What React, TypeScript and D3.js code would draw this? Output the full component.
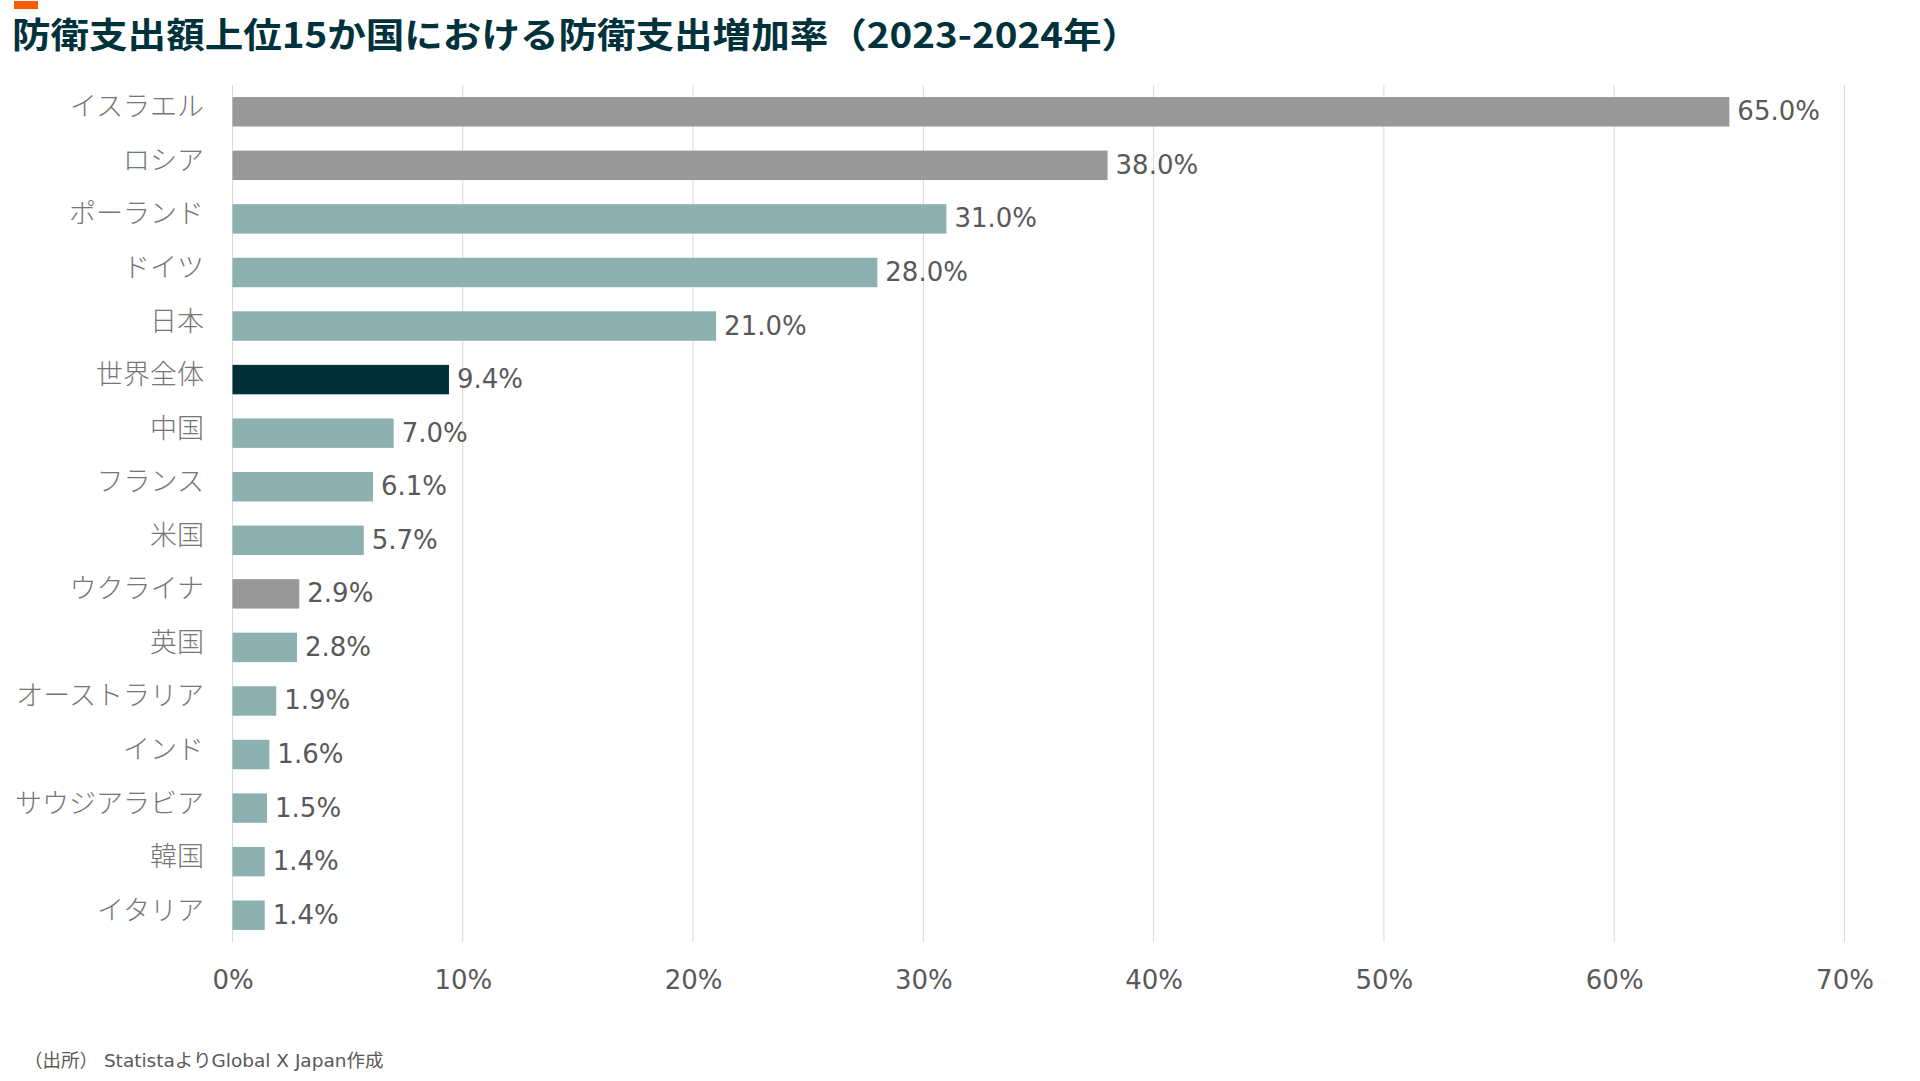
import React, { useEffect, useRef } from "react";
import * as d3 from "d3";

// 防衛支出増加率（2023-2024年）
const countries = [
  "イスラエル", "ロシア", "ポーランド", "ドイツ", "日本", "世界全体", "中国", "フランス",
  "米国", "ウクライナ", "英国", "オーストラリア", "インド", "サウジアラビア", "韓国", "イタリア",
];
const growth = [65.0, 38.0, 31.0, 28.0, 21.0, 9.4, 7.0, 6.1, 5.7, 2.9, 2.8, 1.9, 1.6, 1.5, 1.4, 1.4];
// bar colour groups
const kinds = [
  "war", "war", "country", "country", "country", "world", "country", "country",
  "country", "war", "country", "country", "country", "country", "country", "country",
];
const xTicks = [0, 10, 20, 30, 40, 50, 60, 70];

const title = "防衛支出額上位15か国における防衛支出増加率（2023-2024年）";
const source = "（出所） StatistaよりGlobal X Japan作成";

const W = 1920;
const H = 1081;
const FONT = "'DejaVu Sans', 'Noto Sans CJK JP', sans-serif";

const colorOf: Record<string, string> = {
  war: "#999999",
  country: "#8db1b0",
  world: "#022f38",
};

const App: React.FC = () => {
  const ref = useRef<SVGSVGElement>(null);

  useEffect(() => {
    if (!ref.current) return;
    const svg = d3.select(ref.current);
    svg.selectAll("*").remove();

    const left = 232.5;
    const right = 1844.5;
    const top = 85;
    const bottom = 942;

    const x = d3.scaleLinear().domain([0, 70]).range([left, right]);
    const y = d3
      .scaleBand<string>()
      .domain(countries)
      .range([top, bottom])
      .paddingInner(0.45)
      .paddingOuter(0.225);

    svg.append("rect").attr("width", W).attr("height", H).attr("fill", "#ffffff");

    // orange marker + title
    svg.append("rect").attr("x", 14).attr("y", 1).attr("width", 24).attr("height", 8).attr("fill", "#ff5a00");
    svg
      .append("text")
      .attr("x", 12)
      .attr("y", 48)
      .attr("font-family", "'Noto Sans CJK JP', sans-serif")
      .attr("font-weight", 700)
      .attr("font-size", 35)
      .attr("fill", "#00323c")
      .attr("textLength", 1128)
      .attr("lengthAdjust", "spacingAndGlyphs")
      .text(title);

    // gridlines
    svg
      .append("g")
      .selectAll("line")
      .data(xTicks)
      .enter()
      .append("line")
      .attr("x1", (d) => x(d))
      .attr("x2", (d) => x(d))
      .attr("y1", top)
      .attr("y2", bottom)
      .attr("stroke", "#d9d9d9")
      .attr("stroke-width", 1);

    // x axis labels
    const axis = svg
      .append("g")
      .attr("transform", `translate(0,${bottom})`)
      .call(
        d3
          .axisBottom(x)
          .tickValues(xTicks)
          .tickSize(0)
          .tickPadding(29)
          .tickFormat((d) => `${d}%`)
      );
    axis.select(".domain").remove();
    axis
      .selectAll("text")
      .attr("font-family", FONT)
      .attr("font-size", 26)
      .attr("fill", "#595959");

    const rows = countries.map((c, i) => ({ name: c, value: growth[i], kind: kinds[i] }));

    // bars
    svg
      .append("g")
      .selectAll("rect")
      .data(rows)
      .enter()
      .append("rect")
      .attr("x", x(0))
      .attr("y", (d) => y(d.name) ?? 0)
      .attr("width", (d) => x(d.value) - x(0))
      .attr("height", y.bandwidth())
      .attr("fill", (d) => colorOf[d.kind]);

    const mid = (name: string) => (y(name) ?? 0) + y.bandwidth() / 2;

    // category labels
    svg
      .append("g")
      .selectAll("text")
      .data(rows)
      .enter()
      .append("text")
      .attr("x", 204)
      .attr("y", (d) => mid(d.name) + 4.5)
      .attr("text-anchor", "end")
      .attr("font-family", FONT)
      .attr("font-weight", 300)
      .attr("font-size", 27)
      .attr("fill", "#767676")
      .text((d) => d.name);

    // value labels
    svg
      .append("g")
      .selectAll("text")
      .data(rows)
      .enter()
      .append("text")
      .attr("x", (d) => x(d.value) + 8)
      .attr("y", (d) => mid(d.name) + 8.5)
      .attr("font-family", FONT)
      .attr("font-size", 26)
      .attr("fill", "#595959")
      .text((d) => `${d.value.toFixed(1)}%`);

    // source
    svg
      .append("text")
      .attr("x", 24)
      .attr("y", 1067)
      .attr("font-family", FONT)
      .attr("font-size", 18.5)
      .attr("fill", "#595959")
      .text(source);
  }, []);

  return (
    <svg
      ref={ref}
      width={W}
      height={H}
      style={{ position: "absolute", left: 0, top: 0, display: "block" }}
    ></svg>
  );
};

export default App;
